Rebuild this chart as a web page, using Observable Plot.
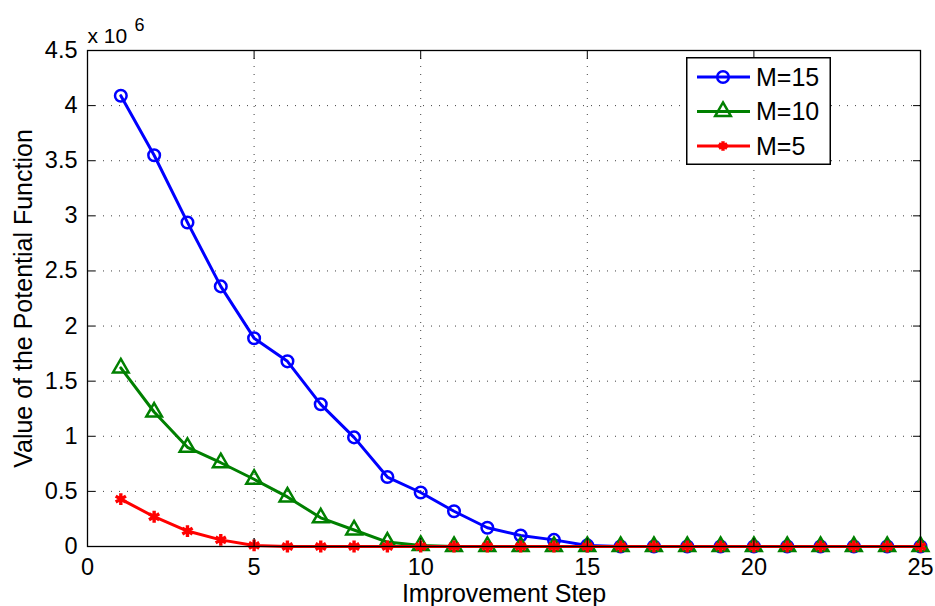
<!DOCTYPE html>
<html>
<head>
<meta charset="utf-8">
<script src="https://cdn.jsdelivr.net/npm/d3@7"></script>
<script src="https://cdn.jsdelivr.net/npm/@observablehq/plot@0.6"></script>
<style>
  html, body { margin: 0; padding: 0; background: white; }
  #wrap { position: relative; width: 935px; height: 606px; font-family: "Liberation Sans", Arial, sans-serif; }
  #legend { position: absolute; left: 686px; top: 57px; }
</style>
</head>
<body>
<div id="wrap"><div id="chart"></div><div id="legend"></div></div>
<script>
// Data (values in units of 10^6)
const steps = [1,2,3,4,5,6,7,8,9,10,11,12,13,14,15,16,17,18,19,20,21,22,23,24,25];
const m15 = [4.09,3.55,2.94,2.36,1.89,1.68,1.29,0.99,0.63,0.49,0.32,0.17,0.10,0.06,0.01,0,0,0,0,0,0,0,0,0,0];
const m10 = [1.62,1.22,0.90,0.76,0.61,0.45,0.26,0.15,0.04,0.01,0,0,0,0,0,0,0,0,0,0,0,0,0,0,0];
const m5  = [0.43,0.27,0.14,0.06,0.01,0,0,0,0,0,0,0,0,0,0,0,0,0,0,0,0,0,0,0,0];
const seriesNames = ["M=15","M=10","M=5"];
const seriesColors = ["#0000ff","#008000","#ff0000"];
const seriesSymbols = ["circle","triangle","asterisk"];
const xTicks = [0,5,10,15,20,25];
const yTicks = [0,0.5,1,1.5,2,2.5,3,3.5,4,4.5];
const xLabel = "Improvement Step";
const yLabel = "Value of the Potential Function";
const expBase = "x 10";
const expPower = "6";

const seriesValues = [m15, m10, m5];
const rows = seriesValues.map((vals, i) => steps.map((s, j) => ({step: s, value: vals[j], series: seriesNames[i]})));

const font = "Liberation Sans, Arial, sans-serif";
const markerR = [5.8, 5.8, 5.6];
const markerSW = [2.5, 2.5, 3.4];

const lineMarks = [];
rows.forEach((data, i) => {
  lineMarks.push(Plot.line(data, {x: "step", y: "value", stroke: seriesColors[i], strokeWidth: 3}));
  lineMarks.push(Plot.dot(data, {x: "step", y: "value", symbol: () => seriesSymbols[i], r: markerR[i],
    stroke: seriesColors[i], strokeWidth: markerSW[i], fill: i === 2 ? seriesColors[i] : "none"}));
});

const chart = Plot.plot({
  width: 935, height: 606,
  marginLeft: 87, marginRight: 15, marginTop: 50, marginBottom: 60,
  x: {domain: [0, 25]},
  y: {domain: [0, 4.5]},
  style: {fontFamily: font, fontSize: "23px", background: "white", color: "black"},
  marks: [
    Plot.gridX(xTicks, {stroke: "#000", strokeOpacity: 0.75, strokeDasharray: "1,7"}),
    Plot.gridY(yTicks, {stroke: "#000", strokeOpacity: 0.75, strokeDasharray: "1,7"}),
    ...lineMarks,
    Plot.axisX(xTicks, {anchor: "bottom", tickSize: -8, tickPadding: 20, tickFormat: d => String(d), label: null, fontSize: 23.5}),
    Plot.axisX(xTicks, {anchor: "top", tickSize: -8, tickFormat: () => "", label: null}),
    Plot.axisY(yTicks, {anchor: "left", tickSize: -8, tickPadding: 18, tickFormat: d => String(d), label: null, fontSize: 23.5}),
    Plot.axisY(yTicks, {anchor: "right", tickSize: -8, tickFormat: () => "", label: null}),
    Plot.frame({stroke: "black", strokeWidth: 1.3}),
    Plot.text([yLabel], {frameAnchor: "left", textAnchor: "middle", lineAnchor: "middle", rotate: -90, dx: -64, fontSize: 25, fill: "black"}),
    Plot.text([xLabel], {frameAnchor: "bottom", textAnchor: "middle", lineAnchor: "middle", dy: 47, fontSize: 25, fill: "black"}),
    Plot.text([expBase], {frameAnchor: "top-left", textAnchor: "start", lineAnchor: "bottom", dy: -8, fontSize: 21, fill: "black"}),
    Plot.text([expPower], {frameAnchor: "top-left", textAnchor: "start", lineAnchor: "bottom", dx: 47, dy: -20, fontSize: 18, fill: "black"})
  ]
});
document.getElementById("chart").appendChild(chart);

// Legend
const lw = 145, lh = 108;
const leg = d3.select("#legend").append("svg").attr("width", lw).attr("height", lh)
  .style("font-family", font).style("overflow", "visible");
leg.append("rect").attr("x", 0.75).attr("y", 0.75).attr("width", lw - 1.5).attr("height", lh - 1.5)
  .attr("fill", "white").attr("stroke", "black").attr("stroke-width", 1.5);
const symMap = {circle: d3.symbolCircle, triangle: d3.symbolTriangle, asterisk: d3.symbolAsterisk};
seriesNames.forEach((name, i) => {
  const cy = 20 + i * 34.5;
  const g = leg.append("g");
  g.append("line").attr("x1", 11).attr("x2", 64).attr("y1", cy).attr("y2", cy)
    .attr("stroke", seriesColors[i]).attr("stroke-width", 3);
  const r = markerR[i] * (i === 2 ? 0.8 : 1);
  g.append("path").attr("transform", `translate(37,${cy})`)
    .attr("d", d3.symbol(symMap[seriesSymbols[i]], Math.PI * r * r)())
    .attr("stroke", seriesColors[i]).attr("stroke-width", markerSW[i])
    .attr("fill", i === 2 ? seriesColors[i] : "none");
  g.append("text").attr("x", 70).attr("y", cy).attr("dy", "0.35em").attr("font-size", 25).attr("fill", "black").text(name);
});
</script>
</body>
</html>
